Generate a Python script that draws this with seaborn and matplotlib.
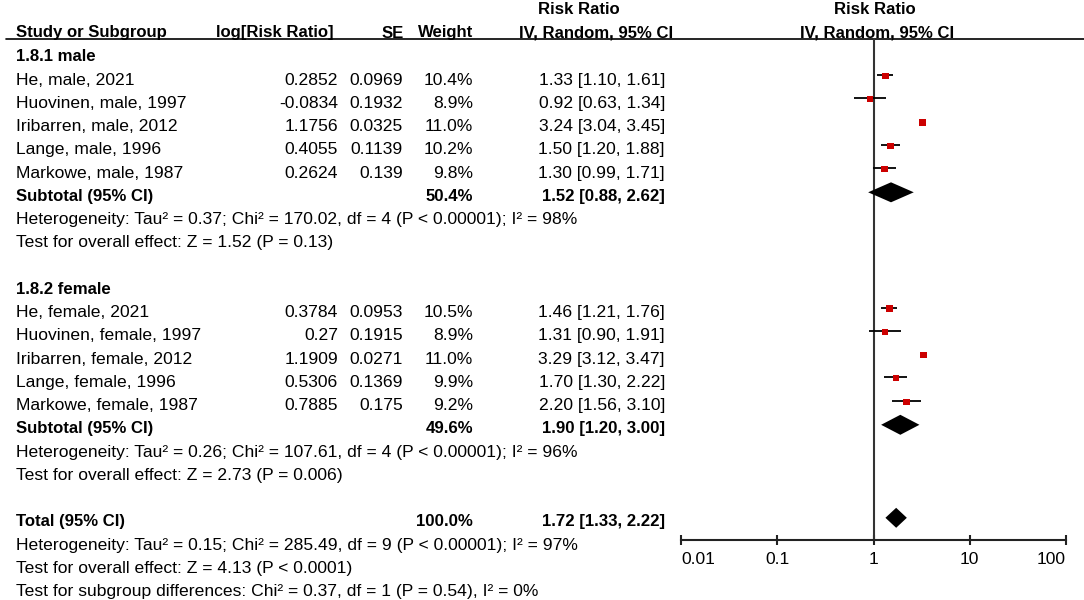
import matplotlib
matplotlib.use("Agg")
import numpy as np
import pandas as pd
import matplotlib.pyplot as plt
import seaborn as sns

# ---------------- data ----------------
group_names = ["1.8.1 male", "1.8.2 female"]
studies = ["He, male, 2021", "Huovinen, male, 1997", "Iribarren, male, 2012",
           "Lange, male, 1996", "Markowe, male, 1987",
           "He, female, 2021", "Huovinen, female, 1997", "Iribarren, female, 2012",
           "Lange, female, 1996", "Markowe, female, 1987"]
study_group = [0, 0, 0, 0, 0, 1, 1, 1, 1, 1]
log_rr = [0.2852, -0.0834, 1.1756, 0.4055, 0.2624, 0.3784, 0.27, 1.1909, 0.5306, 0.7885]
se = [0.0969, 0.1932, 0.0325, 0.1139, 0.139, 0.0953, 0.1915, 0.0271, 0.1369, 0.175]
weight = [10.4, 8.9, 11.0, 10.2, 9.8, 10.5, 8.9, 11.0, 9.9, 9.2]
rr = [1.33, 0.92, 3.24, 1.50, 1.30, 1.46, 1.31, 3.29, 1.70, 2.20]
ci_lo = [1.10, 0.63, 3.04, 1.20, 0.99, 1.21, 0.90, 3.12, 1.30, 1.56]
ci_hi = [1.61, 1.34, 3.45, 1.88, 1.71, 1.76, 1.91, 3.47, 2.22, 3.10]

sub_weight = [50.4, 49.6]
sub_rr = [1.52, 1.90]
sub_lo = [0.88, 1.20]
sub_hi = [2.62, 3.00]
sub_het = ["Heterogeneity: Tau\u00b2 = 0.37; Chi\u00b2 = 170.02, df = 4 (P < 0.00001); I\u00b2 = 98%",
           "Heterogeneity: Tau\u00b2 = 0.26; Chi\u00b2 = 107.61, df = 4 (P < 0.00001); I\u00b2 = 96%"]
sub_test = ["Test for overall effect: Z = 1.52 (P = 0.13)",
            "Test for overall effect: Z = 2.73 (P = 0.006)"]

total_weight = 100.0
total_rr, total_lo, total_hi = 1.72, 1.33, 2.22
total_notes = ["Heterogeneity: Tau\u00b2 = 0.15; Chi\u00b2 = 285.49, df = 9 (P < 0.00001); I\u00b2 = 97%",
               "Test for overall effect: Z = 4.13 (P < 0.0001)",
               "Test for subgroup differences: Chi\u00b2 = 0.37, df = 1 (P = 0.54), I\u00b2 = 0%"]

axis_ticks = [0.01, 0.1, 1, 10, 100]
axis_labels = ["0.01", "0.1", "1", "10", "100"]

# ---------------- layout ----------------
W, H = 1084, 600
y0, dy = 52.8, 23.25           # pixel y of row 0 and row spacing
def px_row(py):
    return (py - y0) / dy

ytop, ybot = px_row(0), px_row(H)
axis_row = px_row(540)
ul_row = px_row(39.5)
shift = 4.0 / dy               # table text sits a little below the marks
FS, FS_B = 12.6, 12.1
col_label, col_lrr, col_se, col_w, col_rr = 16, 338, 403, 473, 665

sns.set_theme(style="white")
plt.rcParams["font.family"] = ["Liberation Sans", "DejaVu Sans"]

fig = plt.figure(figsize=(W / 100, H / 100), dpi=100)
tax = fig.add_axes([0, 0, 1, 1])
tax.set_xlim(0, W)
tax.set_ylim(ybot, ytop)
tax.axis("off")

def put(x, row, s, ha="left", bold=False, off=shift):
    tax.text(x, row + off, s, ha=ha, va="center", fontsize=FS_B if bold else FS,
             fontweight="bold" if bold else "normal", color="black")

# headers
hr, tr = px_row(33), px_row(10)
put(col_label, hr, "Study or Subgroup", bold=True, off=0)
put(334, hr, "log[Risk Ratio]", ha="right", bold=True, off=0)
put(404, hr, "SE", ha="right", bold=True, off=0)
put(col_w, hr, "Weight", ha="right", bold=True, off=0)
put(673, hr, "IV, Random, 95% CI", ha="right", bold=True, off=0)
put(579, tr, "Risk Ratio", ha="center", bold=True, off=0)
put(877, hr, "IV, Random, 95% CI", ha="center", bold=True, off=0)
put(875, tr, "Risk Ratio", ha="center", bold=True, off=0)
tax.plot([6, W], [ul_row, ul_row], color="black", lw=1.2)

# rows
rows = []
for i, name in enumerate(studies):
    g = study_group[i]
    rows.append(10 * g + 1 + (i - 5 * g))
for g, gname in enumerate(group_names):
    base = 10 * g
    put(col_label, base, gname, bold=True)
    put(col_label, base + 6, "Subtotal (95% CI)", bold=True)
    put(col_w, base + 6, f"{sub_weight[g]:.1f}%", ha="right", bold=True)
    put(col_rr, base + 6, f"{sub_rr[g]:.2f} [{sub_lo[g]:.2f}, {sub_hi[g]:.2f}]", ha="right", bold=True)
    put(col_label, base + 7, sub_het[g])
    put(col_label, base + 8, sub_test[g])
for i, name in enumerate(studies):
    r = rows[i]
    put(col_label, r, name)
    put(col_lrr, r, str(log_rr[i]), ha="right")
    put(col_se, r, str(se[i]), ha="right")
    put(col_w, r, f"{weight[i]:.1f}%", ha="right")
    put(col_rr, r, f"{rr[i]:.2f} [{ci_lo[i]:.2f}, {ci_hi[i]:.2f}]", ha="right")

put(col_label, 20, "Total (95% CI)", bold=True)
put(col_w, 20, f"{total_weight:.1f}%", ha="right", bold=True)
put(col_rr, 20, f"{total_rr:.2f} [{total_lo:.2f}, {total_hi:.2f}]", ha="right", bold=True)
for k, note in enumerate(total_notes):
    put(col_label, 21 + k, note)

# ---------------- forest panel ----------------
fax = fig.add_axes([681 / W, 0, (1066 - 681) / W, 1])
fax.patch.set_alpha(0)

df = pd.DataFrame({"study": studies, "row": rows, "rr": rr,
                   "lo": ci_lo, "hi": ci_hi, "weight": weight})

# CI whiskers sit slightly above the box centre, as in RevMan output
fax.hlines(df["row"] - 1.0 / dy, df["lo"], df["hi"], color="black", lw=1.3, zorder=2)
sns.scatterplot(data=df, x="rr", y="row", size="weight", sizes=(0, 23),
                size_norm=(0, 11.0), marker="s", color="#cc0000",
                edgecolor="none", linewidth=0, legend=False, ax=fax, zorder=3)

h = 0.43
for g in range(2):
    r = 10 * g + 6
    fax.fill([sub_lo[g], sub_rr[g], sub_hi[g], sub_rr[g]], [r, r - h, r, r + h],
             color="black", lw=0, zorder=3)
fax.fill([total_lo, total_rr, total_hi, total_rr], [20, 20 - h, 20, 20 + h],
         color="black", lw=0, zorder=3)

fax.plot([1, 1], [ul_row, axis_row], color="#333333", lw=1.5, zorder=1)

fax.set_xscale("log")
fax.set_xlim(0.01, 100)
fax.set_ylim(ybot, ytop)
fax.set_xlabel("")
fax.set_ylabel("")
fax.set_yticks([])
for s in ["top", "left", "right"]:
    fax.spines[s].set_visible(False)
fax.spines["bottom"].set_position(("data", axis_row))
fax.spines["bottom"].set_linewidth(1.5)
fax.spines["bottom"].set_color("#222222")
fax.set_xticks(axis_ticks)
fax.set_xticklabels(axis_labels)
fax.xaxis.set_minor_locator(matplotlib.ticker.NullLocator())
fax.tick_params(axis="x", which="major", direction="inout", length=7, width=1.5,
                color="#222222", labelcolor="black", labelsize=FS, pad=5, bottom=True)
labels = fax.get_xticklabels()
labels[0].set_ha("left")
labels[-1].set_ha("right")

fig.savefig("out.png", dpi=100)
